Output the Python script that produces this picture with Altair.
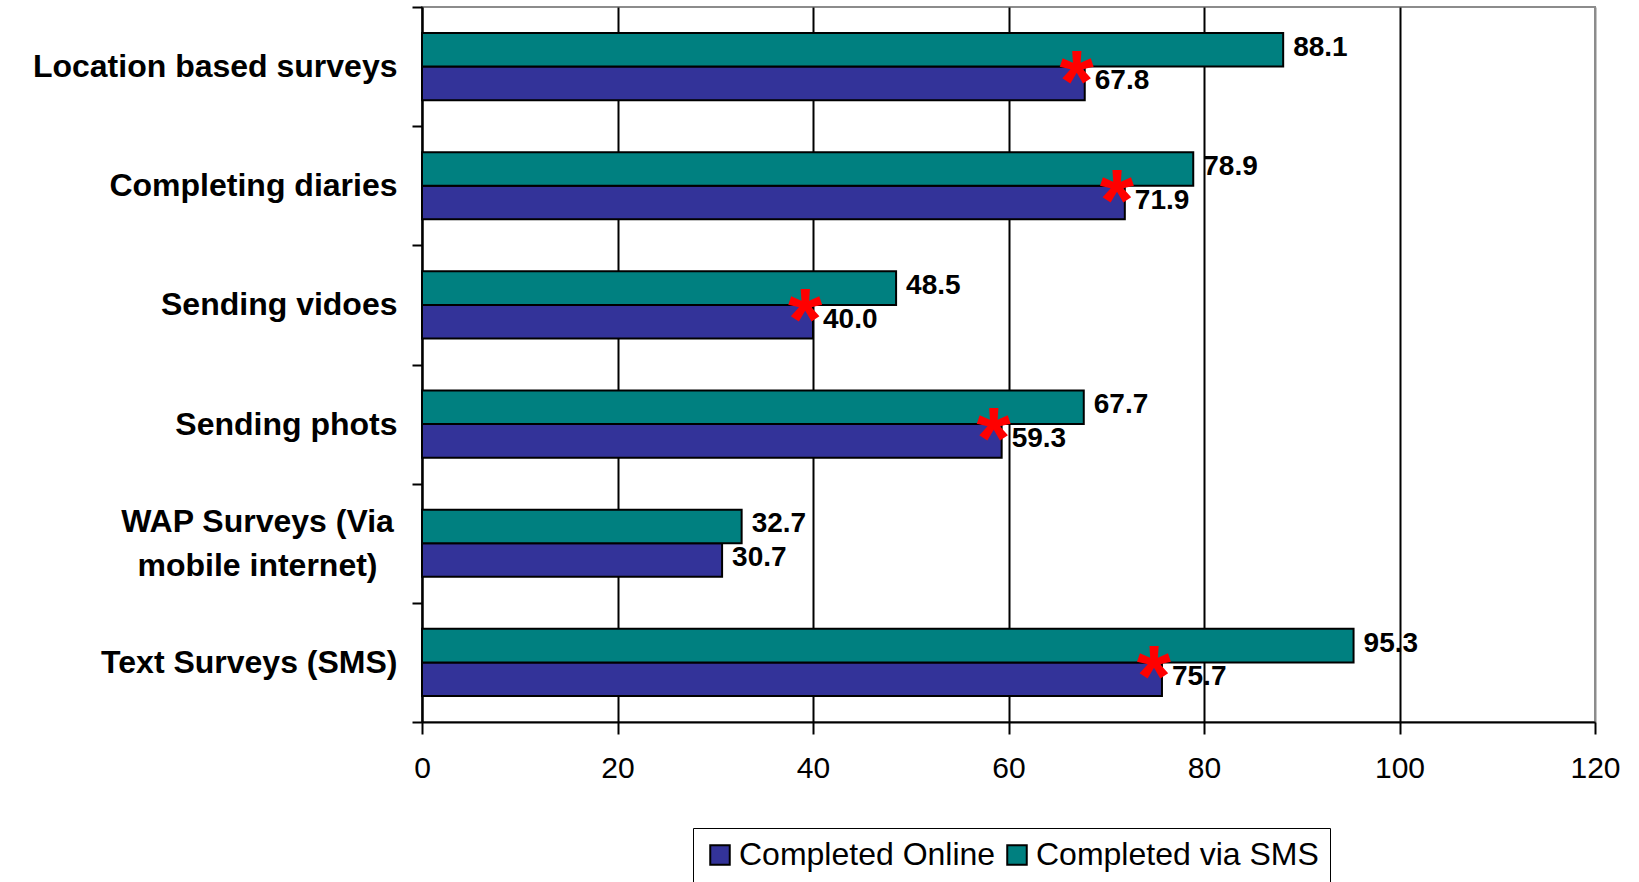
import altair as alt
import pandas as pd

# Survey activities and completion rates (%)
categories = [
    "Location based surveys",
    "Completing diaries",
    "Sending vidoes",
    "Sending phots",
    "WAP Surveys (Via mobile internet)",
    "Text Surveys (SMS)",
]
online = [67.8, 71.9, 40.0, 59.3, 30.7, 75.7]
sms = [88.1, 78.9, 48.5, 67.7, 32.7, 95.3]
significant = [True, True, True, True, False, True]

series_names = ["Completed Online", "Completed via SMS"]
series_colors = ["#333399", "#008080"]

rows = []
for cat, o, s in zip(categories, online, sms):
    rows.append({"activity": cat, "series": series_names[0], "pct": o})
    rows.append({"activity": cat, "series": series_names[1], "pct": s})
df = pd.DataFrame(rows)

stars = pd.DataFrame({
    "activity": [c for c, f in zip(categories, significant) if f],
    "pct": [o for o, f in zip(online, significant) if f],
})

FONT = "Liberation Sans"
WAP = "WAP Surveys (Via mobile internet)"
is_wap = "datum.value === '" + WAP + "'"

y_enc = alt.Y(
    "activity:N",
    sort=categories,
    scale=alt.Scale(paddingInner=0, paddingOuter=0),
    axis=alt.Axis(
        title=None,
        labelFont=FONT,
        labelFontSize=32,
        labelFontWeight="bold",
        labelColor="black",
        # the two-line label is centred on its own column, the rest right-aligned
        labelAlign={"condition": {"test": is_wap, "value": "center"}, "value": "right"},
        labelPadding={"condition": {"test": is_wap, "value": 155}, "value": 15},
        labelOffset={"condition": {"test": is_wap, "value": -22}, "value": 0},
        labelLineHeight=44,
        labelLimit=0,
        labelExpr=(
            "datum.label == '" + WAP + "' ? "
            "['WAP Surveys (Via', 'mobile internet)'] : datum.label"
        ),
        tickBand="extent",
        tickSize=10,
        tickWidth=2,
        tickColor="black",
        domainColor="black",
        domainWidth=2,
        grid=False,
    ),
)

x_enc = alt.X(
    "pct:Q",
    scale=alt.Scale(domain=[0, 120], nice=False),
    axis=alt.Axis(
        title=None,
        values=[0, 20, 40, 60, 80, 100, 120],
        labelFont=FONT,
        labelFontSize=30,
        labelColor="black",
        labelPadding=19,
        labelFlush=False,
        tickSize=12,
        tickWidth=2,
        tickColor="black",
        domainColor="black",
        domainWidth=2,
        grid=True,
        gridWidth=2,
        gridColor={"condition": {"test": "datum.value === 120", "value": "#8c8c8c"}, "value": "black"},
    ),
)

y_off = alt.YOffset(
    "series:N",
    sort=[series_names[1], series_names[0]],
    scale=alt.Scale(paddingOuter=0.776, paddingInner=0),
)

color_enc = alt.Color(
    "series:N",
    scale=alt.Scale(domain=series_names, range=series_colors),
    legend=alt.Legend(
        title=None,
        orient="none",
        legendX=271,
        legendY=821,
        direction="horizontal",
        symbolType="square",
        symbolSize=380,
        symbolStrokeColor="black",
        symbolStrokeWidth=2,
        symbolOpacity=1,
        labelFont=FONT,
        labelFontSize=32,
        labelColor="black",
        labelOffset=3,
        columnPadding=5,
        padding=11,
        strokeColor="black",
        fillColor="white",
        labelLimit=0,
    ),
)

bars = alt.Chart(df).mark_bar(stroke="black", strokeWidth=2).encode(
    y=y_enc, x=x_enc, yOffset=y_off, color=color_enc
)

values = alt.Chart(df).mark_text(
    align="left", baseline="middle", dx=10, dy=-2,
    font=FONT, fontSize=28, fontWeight="bold", color="black",
).encode(
    y=alt.Y("activity:N", sort=categories),
    x="pct:Q",
    yOffset=alt.YOffset("series:N", sort=[series_names[1], series_names[0]]),
    text=alt.Text("pct:Q", format=".1f"),
)

asterisks = alt.Chart(stars).mark_text(
    text="*", align="center", baseline="alphabetic", dx=-8, dy=44,
    font=FONT, fontSize=88, fontWeight="bold", color="#ff0000",
).encode(
    y=alt.Y("activity:N", sort=categories),
    x="pct:Q",
)

chart = alt.layer(bars, values, asterisks).properties(
    width=1173,
    height=715,
    autosize=alt.AutoSizeParams(type="none"),
    padding={"left": 422, "top": 7, "right": 44, "bottom": 160},
    background="white",
).configure_view(stroke="#8c8c8c", strokeWidth=2)

chart.save("out.html", embed_options={"renderer": "svg", "actions": False})
